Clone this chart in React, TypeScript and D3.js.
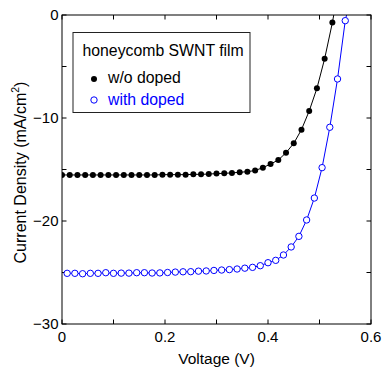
import React from "react";
import * as d3 from "d3";

// J-V curves
const undopedVoltage = d3.range(37).map(i => i * 0.015);
const undopedCurrent = [
  -15.53, -15.53, -15.53, -15.53, -15.53, -15.53, -15.53, -15.53, -15.53, -15.53,
  -15.53, -15.53, -15.53, -15.50, -15.50, -15.50, -15.50, -15.47, -15.47, -15.44,
  -15.40, -15.37, -15.33, -15.27, -15.21, -15.10, -14.82, -14.47, -14.08, -13.37,
  -12.46, -11.13, -9.32, -7.12, -4.24, -0.74, 3.4,
];

const dopedVoltage = d3.range(38).map(i => 0.01 + i * 0.015);
const dopedCurrent = [
  -25.08, -25.08, -25.12, -25.08, -25.08, -25.02, -25.08, -25.06, -25.06, -25.02,
  -25.02, -25.05, -25.04, -25.00, -24.96, -24.93, -24.92, -24.87, -24.85, -24.80,
  -24.76, -24.72, -24.66, -24.58, -24.50, -24.34, -24.05, -23.82, -23.30, -22.52,
  -21.49, -19.90, -17.77, -14.82, -10.90, -6.21, -0.55, 2.7,
];

const xTickLabels = [0, 0.2, 0.4, 0.6];
const yTickLabels = [0, -10, -20, -30];
const legendTitle = "honeycomb SWNT film";
const seriesNames = ["w/o doped", "with doped"];

const W = 382;
const H = 367;
const margin = { top: 15, right: 11, bottom: 43, left: 62 };
const FONT = "'Liberation Sans', Arial, Helvetica, sans-serif";

export default function App() {
  const x = d3.scaleLinear().domain([0, 0.6]).range([margin.left, W - margin.right]);
  const y = d3.scaleLinear().domain([-30, 0]).range([H - margin.bottom, margin.top]);
  const [x0, x1] = x.range();
  const [y0, y1] = y.range(); // y0 bottom, y1 top

  const undoped = undopedVoltage.map((v, i) => ({ v, c: undopedCurrent[i] }));
  const doped = dopedVoltage.map((v, i) => ({ v, c: dopedCurrent[i] }));

  const line = d3.line<{ v: number; c: number }>()
    .x(d => x(d.v))
    .y(d => y(d.c));

  const xTicks = d3.range(0, 0.6001, 0.1);
  const yTicks = d3.range(-30, 0.001, 5);
  const tl = 4.5;
  const fmt = d3.format("");

  return (
    <svg width={W} height={H} style={{ position: "absolute", left: 0, top: 0, background: "#fff" }}
      fontFamily={FONT}>
      <defs>
        <clipPath id="plot">
          <rect x={x0} y={y1} width={x1 - x0} height={y0 - y1} />
        </clipPath>
      </defs>

      {/* ticks on all four sides, pointing in */}
      {xTicks.map(t => (
        <g key={"xt" + t} stroke="#000" strokeWidth={1}>
          <line x1={x(t)} x2={x(t)} y1={y0} y2={y0 - tl} />
          <line x1={x(t)} x2={x(t)} y1={y1} y2={y1 + tl} />
        </g>
      ))}
      {yTicks.map(t => (
        <g key={"yt" + t} stroke="#000" strokeWidth={1}>
          <line x1={x0} x2={x0 + tl} y1={y(t)} y2={y(t)} />
          <line x1={x1} x2={x1 - tl} y1={y(t)} y2={y(t)} />
        </g>
      ))}

      {xTickLabels.map(t => (
        <text key={"xl" + t} x={x(t)} y={342} textAnchor="middle" fontSize={15}>
          {fmt(t)}
        </text>
      ))}
      {yTickLabels.map(t => (
        <text key={"yl" + t} x={x0 - 3.5} y={y(t)} dy="0.36em" textAnchor="end" fontSize={15}>
          {fmt(t)}
        </text>
      ))}

      <text x={(x0 + x1) / 2} y={363.5} textAnchor="middle" fontSize={15.5}>Voltage (V)</text>
      <text transform={`translate(25.5,${(y0 + y1) / 2 + 3}) rotate(-90)`} textAnchor="middle" fontSize={16}>
        Current Density (mA/cm<tspan fontSize={10.5} dy={-6.5}>2</tspan><tspan dy={6.5}>)</tspan>
      </text>

      <g clipPath="url(#plot)">
        <path d={line(undoped) ?? ""} fill="none" stroke="#000" strokeWidth={1} />
        {undoped.map((d, i) => (
          <circle key={"u" + i} cx={x(d.v)} cy={y(d.c)} r={3} fill="#000" />
        ))}
        <path d={line(doped) ?? ""} fill="none" stroke="#0000ff" strokeWidth={1} />
        {doped.map((d, i) => (
          <circle key={"d" + i} cx={x(d.v)} cy={y(d.c)} r={3.2} fill="#fff" stroke="#0000ff" strokeWidth={1} />
        ))}
      </g>

      <rect x={x0} y={y1} width={x1 - x0} height={y0 - y1} fill="none" stroke="#000" strokeWidth={1} />

      {/* legend */}
      <rect x={73} y={32.5} width={177} height={80} fill="#fff" stroke="#222" strokeWidth={1} />
      <text x={82.5} y={56} fontSize={15.8}>{legendTitle}</text>
      <circle cx={94} cy={79} r={3} fill="#000" />
      <text x={108} y={82.5} fontSize={15.8}>{seriesNames[0]}</text>
      <circle cx={94} cy={100} r={3.2} fill="#fff" stroke="#0000ff" />
      <text x={108} y={104.5} fontSize={15.8} fill="#0000ff">{seriesNames[1]}</text>
    </svg>
  );
}
